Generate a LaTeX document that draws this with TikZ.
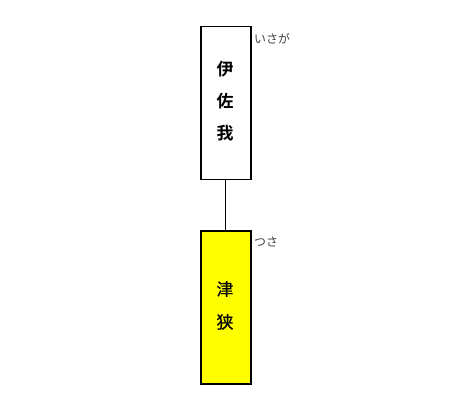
\documentclass[tikz,border=0pt]{standalone}
\usepackage{fontspec}
\newfontfamily\cjk{Noto Sans CJK JP}
\newfontfamily\cjkb{Noto Sans CJK JP Bold}
\newfontfamily\cjkm[FakeBold=0.8]{Noto Sans CJK JP}
\definecolor{yel}{RGB}{255,255,0}
\begin{document}
\begin{tikzpicture}[x=1bp,y=-1bp,
  box/.style={draw=black,line width=1.6bp,minimum width=50bp,minimum height=153bp,inner sep=0pt,anchor=north west},
  lab/.style={anchor=west,text=black!75,font=\cjk\fontsize{12}{14}\selectfont,inner sep=0pt},
  ch/.style={font=\cjkb\fontsize{17}{18}\selectfont,inner sep=0pt},
  chr/.style={font=\cjkm\fontsize{17}{18}\selectfont,inner sep=0pt}]
\useasboundingbox (0,0) rectangle (451,410);
\node[box,fill=white] (a) at (200,25.5) {};
\node[box,fill=yel] (b) at (200,230) {};
\draw[line width=0.8bp] (a.south) -- (b.north);
\node[ch] (a1) at (225,69) {伊};
\node[ch] (a2) at (225,101) {佐};
\node[ch] (a3) at (225,133) {我};
\node[chr] (b1) at (225,289) {津};
\node[chr] (b2) at (225,322) {狭};
\node[lab] (la) at (254,39) {いさが};
\node[lab] (lb) at (254,242) {つさ};
\end{tikzpicture}
\end{document}
